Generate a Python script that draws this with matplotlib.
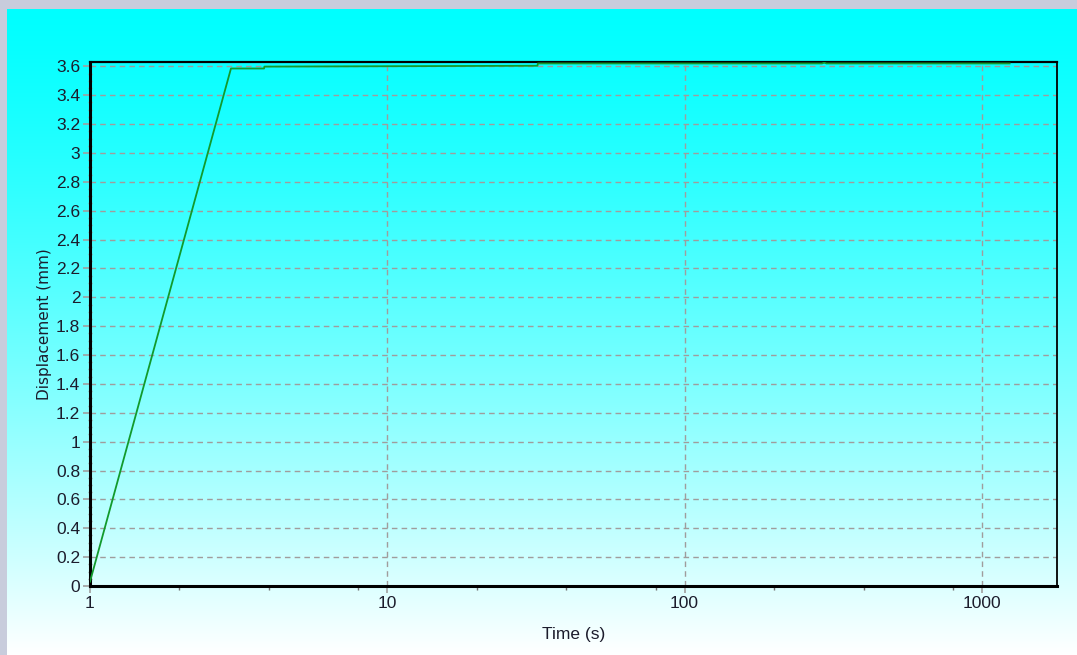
import numpy as np
import matplotlib
matplotlib.use("Agg")
import matplotlib.pyplot as plt
from matplotlib.ticker import FixedLocator, FuncFormatter, MultipleLocator

# time (s) and displacement (mm)
time_s = [1.0, 2.98, 3.85, 3.86, 32.0, 32.1, 290.0, 295.0, 300.0, 1240.0]
disp_mm = [0.03, 3.585, 3.585, 3.598, 3.604, 3.62, 3.62, 3.626, 3.62, 3.62]

y_ticks = [0, 0.2, 0.4, 0.6, 0.8, 1, 1.2, 1.4, 1.6, 1.8, 2, 2.2, 2.4, 2.6, 2.8, 3, 3.2, 3.4, 3.6]
x_ticks = [1, 10, 100, 1000]
x_minor = [2, 4, 8, 20, 40, 80, 200, 400, 800]

font = ["Liberation Sans Narrow", "Liberation Sans", "DejaVu Sans"]
text_col = "#1c1c2c"
grid_col = "#a09c9c"

W, H = 1077, 655
fig = plt.figure(figsize=(W / 100, H / 100), dpi=100)
fig.patch.set_facecolor("#c8ccdc")

# gradient background (cyan -> near white)
bg = fig.add_axes([7 / W, 0, 1 - 7 / W, 1 - 9 / H], zorder=-5)
f = np.linspace(0, 1, 400)[:, None]
grad = np.dstack([f ** 1.3, np.ones_like(f), np.ones_like(f)])
bg.imshow(grad, aspect="auto", extent=[0, 1, 0, 1], origin="upper")
bg.set_axis_off()

ax = fig.add_axes([90 / W, 1 - 586 / H, (1057 - 90) / W, (586 - 62) / H])
ax.set_facecolor("none")
ax.set_xscale("log")
ax.set_xlim(1, 1790)
ax.set_ylim(0, 3.63)

ax.plot(time_s, disp_mm, color="#129a2c", lw=1.3, zorder=3)

ax.xaxis.set_major_locator(FixedLocator(x_ticks))
ax.xaxis.set_minor_locator(FixedLocator(x_minor))
ax.xaxis.set_major_formatter(FuncFormatter(lambda v, p: "%g" % v))
ax.xaxis.set_minor_formatter(FuncFormatter(lambda v, p: ""))
ax.yaxis.set_major_locator(FixedLocator(y_ticks))
ax.yaxis.set_minor_locator(MultipleLocator(0.05))
ax.yaxis.set_major_formatter(FuncFormatter(lambda v, p: "%g" % round(v, 1)))

ax.grid(True, which="major", color=grid_col, ls=(0, (4, 3)), lw=1)

ax.tick_params(axis="both", which="major", direction="out", length=5, width=1.2,
               color="#a0a0a0", labelsize=12.5, labelcolor=text_col, pad=2)
ax.tick_params(axis="x", which="minor", direction="out", length=3, width=1, color="#707070")
ax.tick_params(axis="y", which="minor", direction="inout", length=3, width=1, color="#a0a0a0")
for lab in ax.get_xticklabels() + ax.get_yticklabels():
    lab.set_family(font)

for s in ["left", "bottom"]:
    ax.spines[s].set_linewidth(2.2)
    ax.spines[s].set_color("black")
ax.spines["top"].set_linewidth(1.6)
ax.spines["right"].set_linewidth(1.3)

ax.set_xlabel("Time (s)", family=font, fontsize=12.5, color=text_col, labelpad=12)
ax.set_ylabel("Displacement (mm)", family=["DejaVu Sans"], fontsize=11,
              color=text_col, labelpad=3)

fig.savefig("out.png", dpi=100)
